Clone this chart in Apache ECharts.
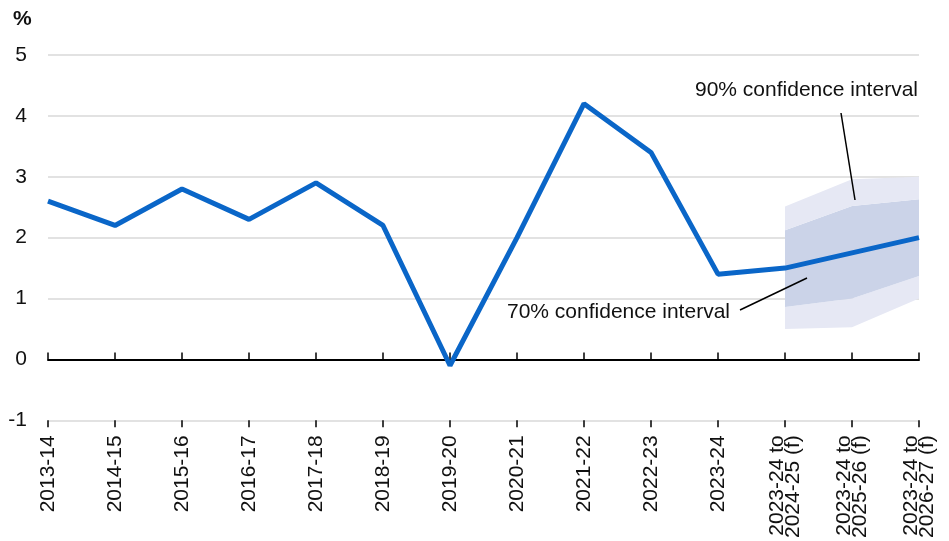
<!DOCTYPE html>
<html>
<head>
<meta charset="utf-8">
<script src="https://cdn.jsdelivr.net/npm/echarts@6/dist/echarts.min.js"></script>
<style>
  html, body { margin: 0; padding: 0; background: #fff; }
  #chart { width: 949px; height: 541px; }
</style>
</head>
<body>
<div id="chart"></div>
<script>
    // categories and values
    var categories = ['2013-14', '2014-15', '2015-16', '2016-17', '2017-18', '2018-19', '2019-20',
        '2020-21', '2021-22', '2022-23', '2023-24',
        '2023-24 to\n2024-25 (f)', '2023-24 to\n2025-26 (f)', '2023-24 to\n2026-27 (f)'];
    var growth = [2.6, 2.2, 2.8, 2.3, 2.9, 2.2, -0.1, 2.0, 4.2, 3.4, 1.4, 1.5, 1.75, 2.0];

    // confidence bands, only for the forecast points
    var lower90 = [null, null, null, null, null, null, null, null, null, null, null, 0.5, 0.53, 1.0];
    var lower70 = [null, null, null, null, null, null, null, null, null, null, null, 0.86, 1.0, 1.37];
    var upper70 = [null, null, null, null, null, null, null, null, null, null, null, 2.12, 2.52, 2.63];
    var upper90 = [null, null, null, null, null, null, null, null, null, null, null, 2.51, 2.96, 3.0];

    var yTicks = { min: -1, max: 5, interval: 1 };

    var font = 'Liberation Sans, Arial, sans-serif';

    function diff (a, b) {
        return a.map(function (v, i) {
            return v == null ? '-' : +(v - b[i]).toFixed(3);
        });
    }
    function dash (a) {
        return a.map(function (v) { return v == null ? '-' : v; });
    }

    function band (name, data, color) {
        return {
            name: name,
            type: 'line',
            stack: 'ci',
            data: data,
            symbol: 'none',
            silent: true,
            lineStyle: { width: 0 },
            areaStyle: color ? { color: color, opacity: 1 } : { opacity: 0 },
            z: 1
        };
    }

    var option = {
        animation: false,
        grid: { left: 48, right: 30, top: 55, bottom: 119, containLabel: false },
        xAxis: [
            {
                type: 'category',
                data: categories,
                boundaryGap: false,
                axisLine: { show: false, onZero: false },
                axisTick: { show: false },
                axisLabel: {
                    rotate: 90,
                    interval: 0,
                    margin: 15,
                    fontSize: 21,
                    lineHeight: 16,
                    color: '#111',
                    fontFamily: font
                }
            },
            {
                type: 'category',
                data: categories,
                boundaryGap: false,
                position: 'bottom',
                axisLine: { show: true, onZero: true, lineStyle: { color: '#000', width: 2 } },
                axisTick: { show: true, inside: true, interval: 0, length: 7, lineStyle: { color: '#000', width: 1.5 } },
                axisLabel: { show: false }
            },
            {
                type: 'category',
                data: categories,
                boundaryGap: false,
                position: 'bottom',
                axisLine: { show: false, onZero: true },
                axisTick: { show: true, inside: false, interval: 0, length: 7, lineStyle: { color: '#000', width: 1.5 } },
                axisLabel: { show: false }
            }
        ],
        yAxis: {
            type: 'value',
            min: yTicks.min,
            max: yTicks.max,
            interval: yTicks.interval,
            axisLine: { show: false },
            axisTick: { show: false },
            splitLine: { lineStyle: { color: '#d9d9d9', width: 1.5 } },
            axisLabel: { fontSize: 21, color: '#111', margin: 21, fontFamily: font }
        },
        series: [
            band('base', dash(lower90), null),
            band('90% low', diff(lower70, lower90), '#e6e8f4'),
            band('70%', diff(upper70, lower70), '#cbd3e8'),
            band('90% high', diff(upper90, upper70), '#e6e8f4'),
            {
                name: 'growth',
                type: 'line',
                data: growth,
                symbol: 'none',
                lineStyle: { color: '#0a66c8', width: 5 },
                z: 5
            }
        ],
        graphic: [
            {
                type: 'text', left: 13, top: 9,
                style: { text: '%', fontSize: 21, fontWeight: 'bold', fontFamily: font, fill: '#111' }
            },
            {
                type: 'text', left: 695, top: 80,
                style: { text: '90% confidence interval', fontSize: 21, fontFamily: font, fill: '#111' }
            },
            {
                type: 'line', z: 10,
                shape: { x1: 841, y1: 113, x2: 855, y2: 200 },
                style: { stroke: '#000', lineWidth: 1.5 }
            },
            {
                type: 'text', left: 507, top: 302,
                style: { text: '70% confidence interval', fontSize: 21, fontFamily: font, fill: '#111' }
            },
            {
                type: 'line', z: 10,
                shape: { x1: 740, y1: 310, x2: 807, y2: 278 },
                style: { stroke: '#000', lineWidth: 1.5 }
            }
        ]
    };

    var chart = echarts.init(document.getElementById('chart'));
    chart.setOption(option);
    window.addEventListener('resize', function () {
        chart.resize();
    });
</script>
</body>
</html>
